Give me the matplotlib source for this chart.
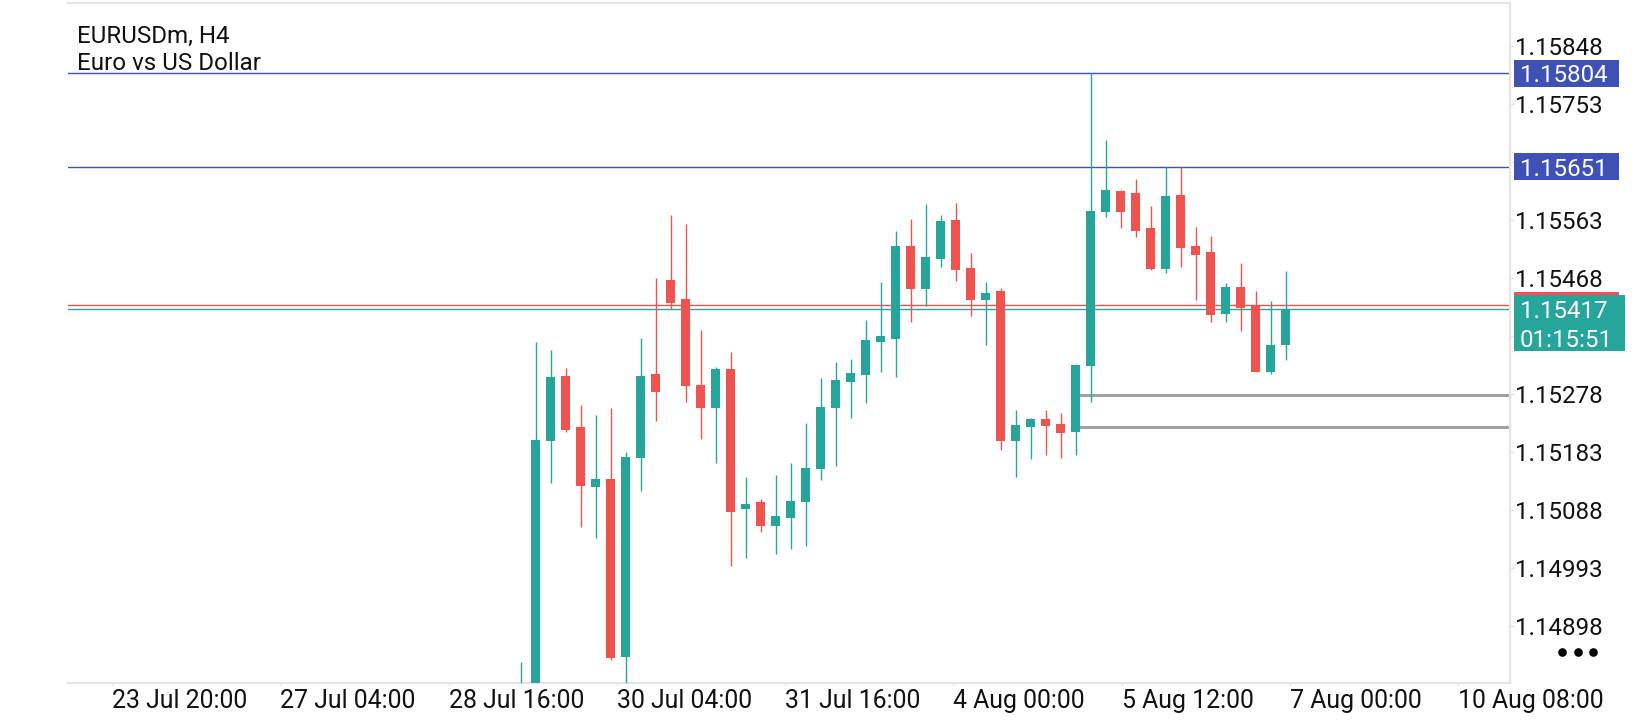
import matplotlib
matplotlib.use('Agg')
import matplotlib.pyplot as plt
from matplotlib.patches import Rectangle
from matplotlib.lines import Line2D
from matplotlib.transforms import blended_transform_factory

# ---------------- data ----------------
opens = [1.14760, 1.14770, 1.15201, 1.15308, 1.15224, 1.15126, 1.15139, 1.14847, 1.15173, 1.15311,
         1.15465, 1.15434, 1.15293, 1.15256, 1.15320, 1.15090, 1.15101, 1.15063, 1.15075, 1.15102,
         1.15155, 1.15256, 1.15299, 1.15310, 1.15364, 1.15369, 1.15521, 1.15451, 1.15500, 1.15564,
         1.15485, 1.15433, 1.15447, 1.15201, 1.15224, 1.15238, 1.15230, 1.15217, 1.15325, 1.15576,
         1.15611, 1.15608, 1.15551, 1.15484, 1.15605, 1.15521, 1.15511, 1.15410, 1.15454, 1.15424,
         1.15314, 1.15359]
highs = [1.14840, 1.15363, 1.15351, 1.15321, 1.15260, 1.15244, 1.15255, 1.15183, 1.15370, 1.15468,
         1.15572, 1.15557, 1.15383, 1.15322, 1.15347, 1.15143, 1.15107, 1.15146, 1.15165, 1.15231,
         1.15304, 1.15331, 1.15336, 1.15399, 1.15462, 1.15546, 1.15566, 1.15590, 1.15572, 1.15592,
         1.15510, 1.15462, 1.15452, 1.15252, 1.15239, 1.15252, 1.15247, 1.15327, 1.15804, 1.15695,
         1.15612, 1.15631, 1.15587, 1.15651, 1.15651, 1.15552, 1.15537, 1.15460, 1.15493, 1.15447,
         1.15431, 1.15480]
lows = [1.14740, 1.14740, 1.15133, 1.15217, 1.15060, 1.15042, 1.14842, 1.14780, 1.15119, 1.15235,
        1.15417, 1.15266, 1.15205, 1.15165, 1.14997, 1.15009, 1.15053, 1.15017, 1.15025, 1.15030,
        1.15138, 1.15160, 1.15240, 1.15263, 1.15314, 1.15307, 1.15397, 1.15423, 1.15487, 1.15464,
        1.15407, 1.15359, 1.15186, 1.15143, 1.15172, 1.15178, 1.15173, 1.15178, 1.15266, 1.15569,
        1.15551, 1.15536, 1.15482, 1.15476, 1.15486, 1.15433, 1.15396, 1.15397, 1.15382, 1.15314,
        1.15311, 1.15335]
closes = [1.14790, 1.15203, 1.15306, 1.15220, 1.15127, 1.15139, 1.14846, 1.15176, 1.15308, 1.15281,
          1.15428, 1.15291, 1.15255, 1.15320, 1.15086, 1.15099, 1.15063, 1.15079, 1.15103, 1.15158,
          1.15257, 1.15302, 1.15313, 1.15367, 1.15374, 1.15521, 1.15450, 1.15503, 1.15562, 1.15482,
          1.15433, 1.15444, 1.15201, 1.15228, 1.15238, 1.15226, 1.15215, 1.15326, 1.15578, 1.15613,
          1.15577, 1.15546, 1.15483, 1.15603, 1.15518, 1.15507, 1.15408, 1.15454, 1.15420, 1.15314,
          1.15359, 1.15417]

price_ticks = [1.15848, 1.15753, 1.15658, 1.15563, 1.15468, 1.15373, 1.15278,
               1.15183, 1.15088, 1.14993, 1.14898]
hidden_price_ticks = [1.15658, 1.15373]

time_labels = ['23 Jul 20:00', '27 Jul 04:00', '28 Jul 16:00', '30 Jul 04:00', '31 Jul 16:00',
               '4 Aug 00:00', '5 Aug 12:00', '7 Aug 00:00', '10 Aug 08:00']
time_tick_pos = [-27.25, -16.03, -4.81, 6.41, 17.63, 28.85, 40.07, 51.29, 62.50]

level_lines = [1.15804, 1.15651]
bid_price = 1.15417
ask_price = 1.15424
countdown = '01:15:51'
zone_top = 1.15277
zone_bottom = 1.15225
zone_start_bar = 37

title_line1 = 'EURUSDm, H4'
title_line2 = 'Euro vs US Dollar'

# ---------------- style ----------------
GREEN = '#26a69a'
RED = '#ef5350'
BLUE = '#3f51b5'
GRAY_ZONE = '#a0a0a0'
BORDER = '#e4e4e4'
FONT = 'Roboto'
FS = 17.4

W, H = 1640, 720
fig = plt.figure(figsize=(W / 100, H / 100), dpi=100)
fig.patch.set_facecolor('white')
L, R, T, B = 68, 1510, 2.5, 683
ax = fig.add_axes([L / W, 1 - B / H, (R - L) / W, (B - T) / H])
ax.set_xlim(-30.18, 65.95)
ax.set_ylim(1.14805, 1.15920)

# candles
n = len(opens)
for i in range(n):
    o, h, l, c = opens[i], highs[i], lows[i], closes[i]
    col = GREEN if c >= o else RED
    ax.vlines(i, l, h, color=col, linewidth=1.0, zorder=3)
    lo = min(o, c)
    hgt = max(abs(c - o), 0.000012)
    ax.add_patch(Rectangle((i - 0.3, lo), 0.6, hgt, facecolor=col, edgecolor='none', zorder=4))

# horizontal level lines
for lv in level_lines:
    ax.axhline(lv, color=BLUE, linewidth=1.0, zorder=2)
ax.axhline(ask_price, color=RED, linewidth=1.0, zorder=2)
ax.axhline(bid_price, color=GREEN, linewidth=1.0, zorder=2)

# gray zone
ax.hlines([zone_top, zone_bottom], zone_start_bar, 70, color=GRAY_ZONE, linewidth=2.2, zorder=2)
ax.vlines(zone_start_bar, zone_bottom, zone_top, color=GRAY_ZONE, linewidth=2.2, zorder=2)

# spines
ax.spines['left'].set_visible(False)
for s in ['top', 'right', 'bottom']:
    ax.spines[s].set_color(BORDER)
    ax.spines[s].set_linewidth(1.6)

# y ticks on right
ax.yaxis.tick_right()
ax.set_yticks(price_ticks)
ax.set_yticklabels(['' if p in hidden_price_ticks else f'{p:.5f}' for p in price_ticks],
                   fontsize=FS, family=FONT, color='#111111')
ax.tick_params(axis='y', length=3.2, width=1, color=BORDER, pad=0.2)

# x ticks
ax.set_xticks(time_tick_pos)
ax.set_xticklabels(time_labels, fontsize=17.9, family=FONT, color='#111111')
for lab in ax.get_xticklabels():
    lab.set_ha('left')
ax.tick_params(axis='x', length=2.5, width=1, color=BORDER, pad=1.5)

# price labels on the right (blended: x in axes fraction, y in data)
fig.canvas.draw()
tr = blended_transform_factory(ax.transAxes, ax.transData)
ppu = (ax.transData.transform((0, 1.0))[1] - ax.transData.transform((0, 0.0))[1])  # px per price unit
axw = R - L


def xfrac(px):
    return (px - L) / axw


box_h = 26.7 / ppu


def price_box(price, text, color, x1=1619):
    ax.add_patch(Rectangle((xfrac(1514), price - box_h / 2), xfrac(x1) - xfrac(1514), box_h,
                           transform=tr, facecolor=color, edgecolor='none', clip_on=False, zorder=10))
    ax.text(xfrac(1520), price, text, transform=tr, color='white', fontsize=FS, family=FONT,
            va='center_baseline', ha='left', clip_on=False, zorder=11)


for lv in level_lines:
    price_box(lv, f'{lv:.5f}', BLUE)

# ask box (mostly hidden) and bid box with countdown
ax.add_patch(Rectangle((xfrac(1514), ask_price - box_h / 2), xfrac(1619) - xfrac(1514), box_h,
                       transform=tr, facecolor=RED, edgecolor='none', clip_on=False, zorder=10))
top_g = bid_price + 14.5 / ppu
ax.add_patch(Rectangle((xfrac(1514), top_g - 56 / ppu), xfrac(1625) - xfrac(1514), 56 / ppu,
                       transform=tr, facecolor=GREEN, edgecolor='none', clip_on=False, zorder=12))
ax.text(xfrac(1520), bid_price, f'{bid_price:.5f}', transform=tr, color='white', fontsize=FS,
        family=FONT, va='center_baseline', ha='left', clip_on=False, zorder=13)
ax.text(xfrac(1520), bid_price - 28.5 / ppu, countdown, transform=tr, color='white', fontsize=FS,
        family=FONT, va='center_baseline', ha='left', clip_on=False, zorder=13)

# title
fig.text(77 / W, 1 - 42.7 / H, title_line1, fontsize=FS, family=FONT, color='#111111', va='baseline')
fig.text(77 / W, 1 - 70 / H, title_line2, fontsize=FS, family=FONT, color='#111111', va='baseline')

# menu dots
fig.add_artist(Line2D([1562 / W, 1578 / W, 1593 / W], [1 - 652 / H] * 3, linestyle='none',
                      marker='o', markersize=5.2, color='black'))

fig.savefig('out.png', dpi=100, facecolor='white')
